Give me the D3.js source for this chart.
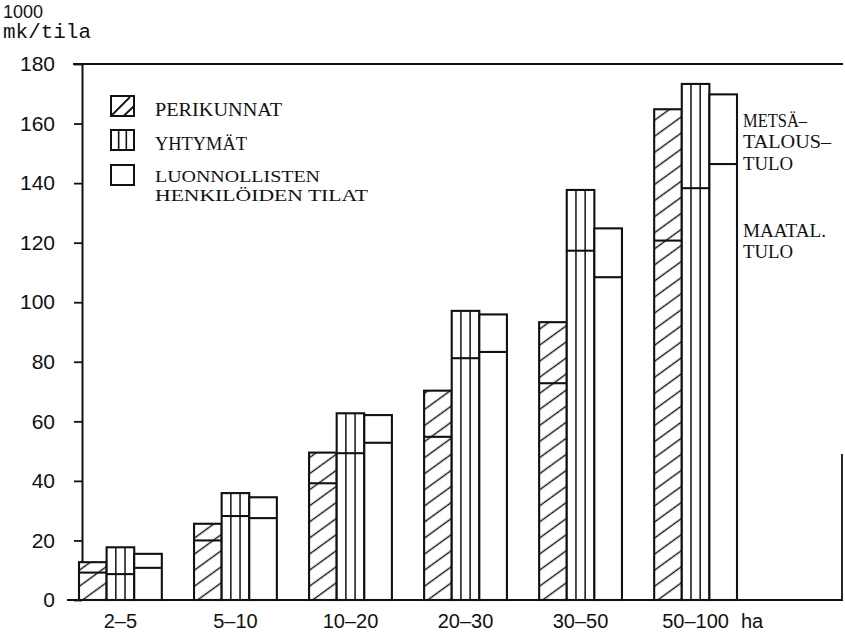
<!DOCTYPE html>
<html>
<head>
<meta charset="utf-8">
<script src="https://cdn.jsdelivr.net/npm/d3@7"></script>
<style>
  html, body { margin: 0; padding: 0; background: #fff; }
  svg { display: block; }
</style>
</head>
<body>
<svg id="chart" width="845" height="640"></svg>
<script>
// ---- data ----
const categories = ["2–5", "5–10", "10–20", "20–30", "30–50", "50–100"];
const seriesNames = ["PERIKUNNAT", "YHTYMÄT", "LUONNOLLISTEN HENKILÖIDEN TILAT"];
// lower part of each bar: maatalouden tulo (1000 mk/tila)
const perikunnatMaatal = [9.2, 20.0, 39.2, 54.8, 72.8, 120.7];
const yhtymatMaatal    = [8.7, 28.2, 49.3, 81.2, 117.3, 138.3];
const luonnMaatal      = [10.8, 27.5, 52.8, 83.3, 108.4, 146.4];
// upper part of each bar: metsätalouden tulo
const perikunnatMetsa  = [3.5, 5.6, 10.3, 15.5, 20.5, 44.1];
const yhtymatMetsa     = [9.0, 7.7, 13.4, 15.9, 20.4, 35.0];
const luonnMetsa       = [4.7, 7.0, 9.3, 12.6, 16.4, 23.4];
const yTicks = [0, 20, 40, 60, 80, 100, 120, 140, 160, 180];

const maatal = [perikunnatMaatal, yhtymatMaatal, luonnMaatal];
const metsa = [perikunnatMetsa, yhtymatMetsa, luonnMetsa];
const fills = ["url(#hatch)", "#fff", "#fff"];

const svg = d3.select("#chart");
const INK = "#111";

// hatch pattern
const defs = svg.append("defs");
const pat = defs.append("pattern")
  .attr("id", "hatch")
  .attr("patternUnits", "userSpaceOnUse")
  .attr("width", 13).attr("height", 13)
  .attr("patternTransform", "rotate(-36)");
pat.append("rect").attr("width", 13).attr("height", 13).attr("fill", "#fff");
pat.append("line").attr("x1", 0).attr("x2", 13).attr("y1", 6.5).attr("y2", 6.5)
  .attr("stroke", INK).attr("stroke-width", 1.4);

// scales
const x = d3.scaleBand().domain(categories).range([79, 737]).paddingInner(0.28).paddingOuter(0);
const x1 = d3.scaleBand().domain(seriesNames).range([0, x.bandwidth()]).padding(0);
const y = d3.scaleLinear().domain([0, 180]).range([600, 64]);

// frame lines
svg.append("line").attr("x1", 73).attr("x2", 843).attr("y1", y(180)).attr("y2", y(180))
  .attr("stroke", INK).attr("stroke-width", 2);
svg.append("line").attr("x1", 67).attr("x2", 843).attr("y1", y(0)).attr("y2", y(0))
  .attr("stroke", INK).attr("stroke-width", 2.2);
svg.append("line").attr("x1", 842).attr("x2", 842).attr("y1", y(49)).attr("y2", y(0))
  .attr("stroke", INK).attr("stroke-width", 1.8);

// y axis
const yAxis = svg.append("g").attr("transform", "translate(82,0)")
  .call(d3.axisLeft(y).tickValues(yTicks).tickSize(8).tickSizeOuter(0).tickPadding(19));
yAxis.select(".domain").attr("stroke", INK).attr("stroke-width", 2);
yAxis.selectAll(".tick line").attr("stroke", INK).attr("stroke-width", 1.8);
yAxis.selectAll(".tick text")
  .attr("font-family", "'Liberation Sans', Arial, sans-serif")
  .attr("font-size", 21).attr("fill", INK);

// x axis labels
const xAxis = svg.append("g").attr("transform", "translate(0,600)")
  .call(d3.axisBottom(x).tickSize(0).tickPadding(14));
xAxis.select(".domain").remove();
xAxis.selectAll(".tick text")
  .attr("font-family", "'Liberation Sans', Arial, sans-serif")
  .attr("font-size", 20).attr("fill", INK);
svg.append("text").attr("x", 752).attr("y", 614).attr("dy", "0.71em")
  .attr("text-anchor", "middle")
  .attr("font-family", "'Liberation Sans', Arial, sans-serif")
  .attr("font-size", 20).attr("fill", INK).text("ha");

// bars
const groups = svg.append("g").selectAll("g").data(categories).join("g")
  .attr("transform", d => `translate(${x(d)},0)`);

seriesNames.forEach((s, si) => {
  groups.each(function (cat, ci) {
    const g = d3.select(this);
    const bx = x1(s), bw = x1.bandwidth();
    const low = maatal[si][ci];
    const top = low + metsa[si][ci];
    g.append("rect")
      .attr("x", bx).attr("width", bw)
      .attr("y", y(top)).attr("height", y(0) - y(top))
      .attr("fill", fills[si]).attr("stroke", INK).attr("stroke-width", 2.1);
    if (si === 1) {
      [1, 2].forEach(k => {
        g.append("line")
          .attr("x1", bx + bw * k / 3).attr("x2", bx + bw * k / 3)
          .attr("y1", y(top)).attr("y2", y(0))
          .attr("stroke", INK).attr("stroke-width", 1.5);
      });
    }
    g.append("line")
      .attr("x1", bx).attr("x2", bx + bw)
      .attr("y1", y(low)).attr("y2", y(low))
      .attr("stroke", INK).attr("stroke-width", 2.1);
  });
});

// y title
svg.append("text").attr("x", 3).attr("y", 18)
  .attr("font-family", "'Liberation Sans', Arial, sans-serif")
  .attr("font-size", 18).attr("fill", INK).text("1000");
svg.append("text").attr("x", 3).attr("y", 38)
  .attr("font-family", "'Liberation Mono', 'Courier New', monospace")
  .attr("font-size", 20).attr("fill", INK)
  .attr("textLength", 88).attr("lengthAdjust", "spacingAndGlyphs").text("mk/tila");

// legend
const serif = "'Liberation Serif', 'Times New Roman', serif";
const legend = svg.append("g");
const lx = 111, lw = 23, lh = 20;
const boxY = [96, 130, 165];
// hatched box
legend.append("rect").attr("x", lx).attr("y", boxY[0]).attr("width", lw).attr("height", lh)
  .attr("fill", "#fff").attr("stroke", INK).attr("stroke-width", 2);
legend.append("line").attr("x1", lx + 1).attr("y1", boxY[0] + lh - 1)
  .attr("x2", lx + lw - 4).attr("y2", boxY[0] + 1).attr("stroke", INK).attr("stroke-width", 1.8);
legend.append("line").attr("x1", lx + lw * 0.55).attr("y1", boxY[0] + lh)
  .attr("x2", lx + lw).attr("y2", boxY[0] + lh * 0.5).attr("stroke", INK).attr("stroke-width", 1.8);
// vertical-lined box
legend.append("rect").attr("x", lx).attr("y", boxY[1]).attr("width", lw).attr("height", lh)
  .attr("fill", "#fff").attr("stroke", INK).attr("stroke-width", 2);
[1, 2].forEach(k => legend.append("line")
  .attr("x1", lx + lw * k / 3).attr("x2", lx + lw * k / 3)
  .attr("y1", boxY[1]).attr("y2", boxY[1] + lh).attr("stroke", INK).attr("stroke-width", 1.6));
// plain box
legend.append("rect").attr("x", lx).attr("y", boxY[2]).attr("width", lw).attr("height", lh)
  .attr("fill", "#fff").attr("stroke", INK).attr("stroke-width", 2);

const legendTexts = [
  { t: "PERIKUNNAT", y: 116, w: 127, fs: 19 },
  { t: "YHTYMÄT", y: 150, w: 92, fs: 19 },
  { t: "LUONNOLLISTEN", y: 182, w: 165, fs: 17 },
  { t: "HENKILÖIDEN TILAT", y: 201, w: 213, fs: 17 }
];
legend.selectAll("text.lt").data(legendTexts).join("text")
  .attr("class", "lt")
  .attr("x", 155).attr("y", d => d.y)
  .attr("font-family", serif).attr("font-size", d => d.fs).attr("fill", INK)
  .attr("textLength", d => d.w).attr("lengthAdjust", "spacingAndGlyphs")
  .text(d => d.t);

// right annotations
const rightTexts = [
  { t: "METSÄ–", y: 127, w: 64 },
  { t: "TALOUS–", y: 148, w: 88 },
  { t: "TULO", y: 170, w: 50 },
  { t: "MAATAL.", y: 237, w: 83 },
  { t: "TULO", y: 258, w: 50 }
];
svg.selectAll("text.rt").data(rightTexts).join("text")
  .attr("class", "rt")
  .attr("x", 743).attr("y", d => d.y)
  .attr("font-family", serif).attr("font-size", 18).attr("fill", INK)
  .attr("textLength", d => d.w).attr("lengthAdjust", "spacingAndGlyphs")
  .text(d => d.t);
</script>
</body>
</html>
